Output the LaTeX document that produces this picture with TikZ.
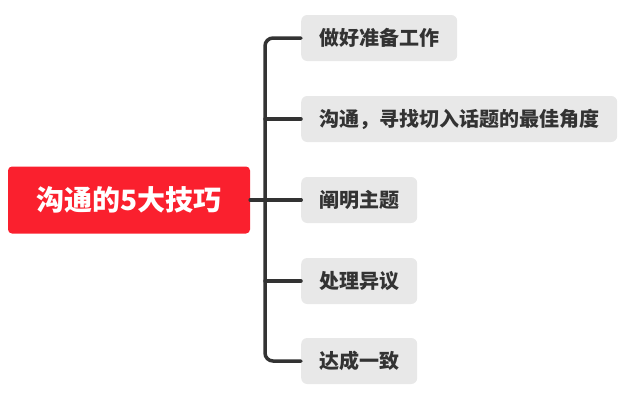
\documentclass[tikz,border=0pt]{standalone}
\usepackage{fontspec}
\usepackage{tikz}
\newfontfamily\cjk{Noto Sans CJK SC}
\definecolor{rootred}{RGB}{250,32,46}
\definecolor{leafgray}{RGB}{232,232,232}
\definecolor{inkgray}{RGB}{51,51,51}
\begin{document}
\begin{tikzpicture}[x=1pt,y=-1pt,line cap=round]
            \tikzstyle{root}=[rectangle,rounded corners=4pt,fill=rootred,text=white,minimum width=242pt,minimum height=67pt,inner sep=0pt,font=\cjk\bfseries\fontsize{28}{31}\selectfont]
            \tikzstyle{leaf}=[rectangle,rounded corners=6pt,fill=leafgray,text=inkgray,anchor=west,minimum height=46pt,inner xsep=18pt,inner ysep=0pt,font=\cjk\bfseries\fontsize{20}{23}\selectfont]
            \tikzstyle{branch}=[draw=inkgray,line width=3.5pt]
            \useasboundingbox (0,0) rectangle (626,416);
                    \node[root] (R) at (129,200) {沟通的5大技巧};
                    \node[leaf] (T-1) at (301,38) {做好准备工作};
                    \node[leaf] (T-2) at (301,119) {沟通，寻找切入话题的最佳角度};
                    \node[leaf] (T-3) at (301,200) {阐明主题};
                    \node[leaf] (T-4) at (301,281) {处理异议};
                    \node[leaf] (T-5) at (301,361) {达成一致};

                \draw[branch,rounded corners=8pt] (T-1.west) -- ++(-36,0) |- (T-5.west);
                \foreach \to in {2,3,4}
                    \draw[branch] (T-\to.west) -- ++(-36,0);
                \draw[branch] (R.east) -- (T-3.west);
        \end{tikzpicture}
\end{document}
